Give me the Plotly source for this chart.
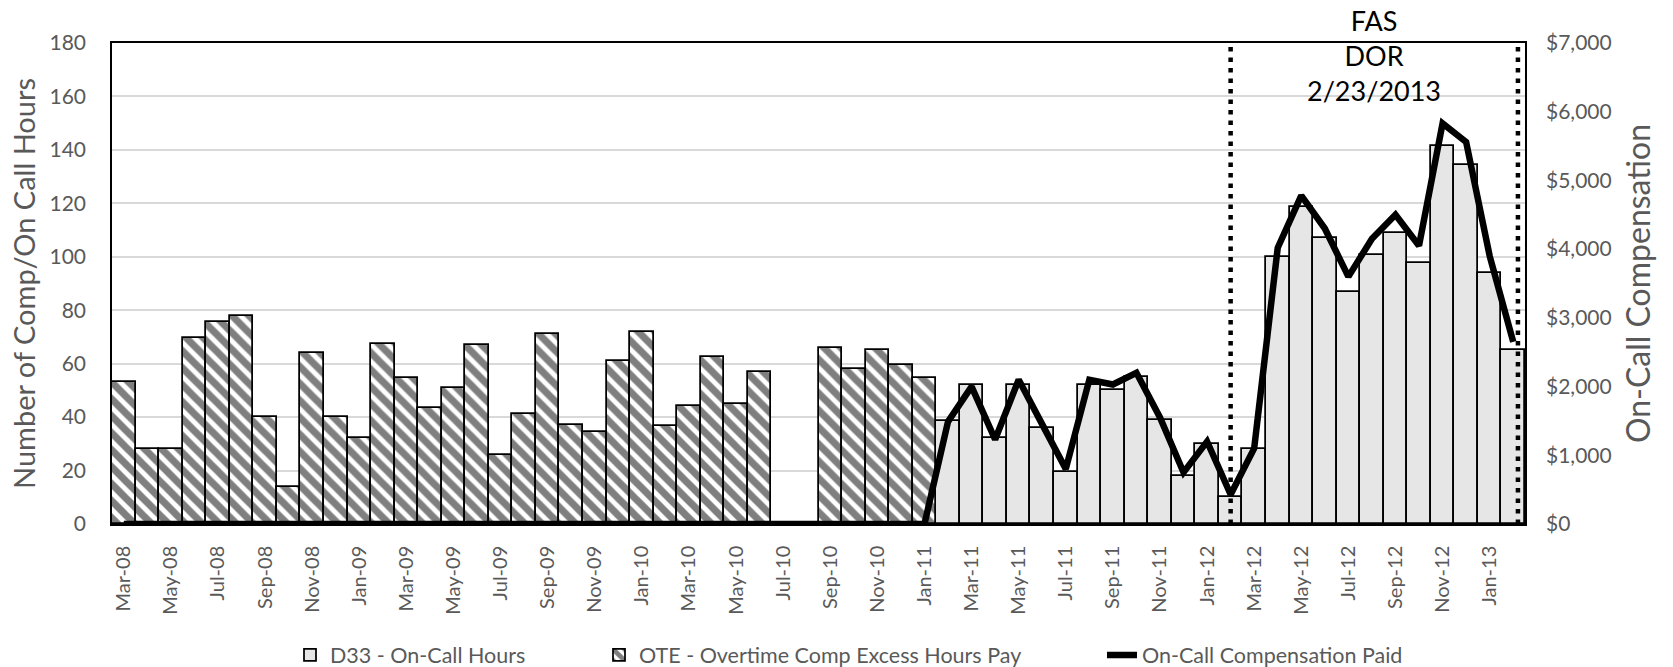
import plotly.graph_objects as go

# Monthly categories, Mar-08 .. Feb-13
months = [
    "Mar-08", "Apr-08", "May-08", "Jun-08", "Jul-08", "Aug-08", "Sep-08", "Oct-08", "Nov-08", "Dec-08",
    "Jan-09", "Feb-09", "Mar-09", "Apr-09", "May-09", "Jun-09", "Jul-09", "Aug-09", "Sep-09", "Oct-09",
    "Nov-09", "Dec-09", "Jan-10", "Feb-10", "Mar-10", "Apr-10", "May-10", "Jun-10", "Jul-10", "Aug-10",
    "Sep-10", "Oct-10", "Nov-10", "Dec-10", "Jan-11", "Feb-11", "Mar-11", "Apr-11", "May-11", "Jun-11",
    "Jul-11", "Aug-11", "Sep-11", "Oct-11", "Nov-11", "Dec-11", "Jan-12", "Feb-12", "Mar-12", "Apr-12",
    "May-12", "Jun-12", "Jul-12", "Aug-12", "Sep-12", "Oct-12", "Nov-12", "Dec-12", "Jan-13", "Feb-13",
]

# OTE - Overtime Comp Excess Hours Pay (Mar-08 .. Jan-11)
ote_hours = [
    53, 28, 28, 69.5, 75.5, 78, 40, 14, 64, 40,
    32, 67.5, 54.5, 43.5, 51, 67, 26, 41, 71, 37,
    34.5, 61, 72, 36.5, 44, 62.5, 45, 57, None, None,
    66, 58, 65, 59.5, 54.5,
]

# D33 - On-Call Hours (Feb-11 .. Feb-13)
d33_hours = [
    38.5, 52, 32, 52, 36, 19.5, 52, 50, 55, 39,
    18, 30, 10, 28, 100, 118.5, 107, 87, 100.5, 109,
    97.5, 141.5, 134.5, 94, 65,
]

# On-Call Compensation Paid, dollars (Mar-08 .. Feb-13)
comp_paid = [0] * 35 + [
    1490, 2000, 1230, 2100, 1450, 800, 2100, 2030, 2200, 1550,
    750, 1200, 430, 1100, 4020, 4780, 4300, 3600, 4150, 4500,
    4050, 5830, 5560, 3900, 2650,
]

# Dotted markers bracketing the DOR period (category positions)
dor_marks = [months.index("Feb-12"), months.index("Feb-13") + 0.2]
dor_label = "FAS<br>DOR<br>2/23/2013"

tick_labels = months[::2]

FONT = "Lato"
GRAY = "#595959"

ote_x = months[:len(ote_hours)]
d33_x = months[len(months) - len(d33_hours):]

fig = go.Figure()

fig.add_trace(go.Bar(
    x=d33_x, y=d33_hours, name="D33 - On-Call Hours", legendwidth=264,
    marker=dict(color="#E6E6E6", line=dict(color="black", width=1.75)),
))
fig.add_trace(go.Bar(
    x=ote_x, y=ote_hours, name="OTE - Overtime Comp Excess Hours Pay", legendwidth=458,
    marker=dict(
        color="white",
        line=dict(color="black", width=1.75),
        pattern=dict(shape="\\", fgcolor="black", bgcolor="white", size=12, solidity=0.6),
    ),
))
fig.add_trace(go.Scatter(
    x=months, y=comp_paid, name="On-Call Compensation Paid", yaxis="y2", legendwidth=290,
    mode="lines", line=dict(color="black", width=6.5),
))

for xm in dor_marks:
    fig.add_shape(
        type="line", xref="x", yref="paper", x0=xm, x1=xm, y0=0, y1=1,
        line=dict(color="black", width=4.5, dash="4.5px,6px"),
    )

fig.add_annotation(
    x=(dor_marks[0] + dor_marks[1]) / 2, xref="x", y=0.974, yref="paper",
    text=dor_label, showarrow=False, xanchor="center", yanchor="middle",
    font=dict(family=FONT, size=27, color="black"),
)

fig.update_layout(
    width=1673, height=667,
    margin=dict(l=112, r=148, t=43, b=143, autoexpand=False),
    paper_bgcolor="white", plot_bgcolor="white",
    barmode="overlay", bargap=0,
    font=dict(family=FONT, color=GRAY),
    showlegend=True,
    legend=dict(
        orientation="h", xref="container", x=(279 + 11) / 1673, xanchor="left",
        yref="container", y=0.018, yanchor="middle",
        font=dict(family=FONT, size=21.5, color=GRAY),
        traceorder="normal",
    ),
    xaxis=dict(
        type="category", categoryorder="array", categoryarray=months,
        range=[-0.5, len(months) - 0.5], automargin=False,
        tickmode="array", tickvals=tick_labels, ticktext=tick_labels,
        tickangle=-90, tickfont=dict(size=20, color=GRAY),
        ticks="", ticklabelstandoff=12,
        showline=True, linecolor="black", linewidth=1.5, mirror=True,
        showgrid=False, zeroline=False,
    ),
    yaxis=dict(
        range=[0, 180], dtick=20, tickfont=dict(size=21, color=GRAY),
        ticks="", ticklabelstandoff=20, automargin=False,
        showgrid=True, gridcolor="#D9D9D9", gridwidth=1.5,
        showline=True, linecolor="black", linewidth=1.5, mirror=True,
        zeroline=False,
        title=dict(text="Number of Comp/On Call Hours", font=dict(size=29, color=GRAY), standoff=5),
    ),
    yaxis2=dict(
        overlaying="y", side="right", range=[0, 7000], dtick=1000,
        tickprefix="$", tickformat=",", tickfont=dict(size=21, color=GRAY),
        ticks="", ticklabelstandoff=20, automargin=False,
        showgrid=False, zeroline=False, showline=False,
        title=dict(text="On-Call Compensation", font=dict(size=32, color=GRAY), standoff=16),
    ),
)

fig.write_html("out.html")
